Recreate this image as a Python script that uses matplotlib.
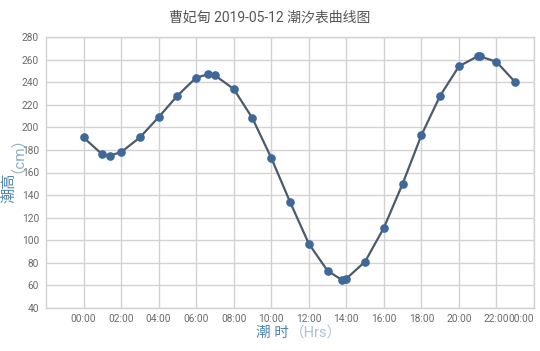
import matplotlib
matplotlib.use("Agg")
import matplotlib.pyplot as plt

plt.rcParams['font.family'] = ['Roboto', 'Noto Sans CJK SC', 'DejaVu Sans']

# tide data
titulo = "曹妃甸 2019-05-12 潮汐表曲线图"
horas = [0, 1, 1.4, 2, 3, 4, 5, 6, 6.65, 7, 8, 9, 10, 11, 12, 13, 13.75, 14,
         15, 16, 17, 18, 19, 20, 21, 21.1, 22, 23]
alturas = [191, 176, 175, 178, 191, 209, 228, 244, 247, 246, 234, 208, 173, 134,
           97, 73, 65, 66, 81, 111, 150, 193, 228, 254, 263, 263, 258, 240]
ticks_x = list(range(0, 25, 2))
etiquetas_x = ["%02d:00" % (h % 24) for h in ticks_x]
ticks_y = list(range(40, 281, 20))

fig = plt.figure(figsize=(5.4, 3.51), dpi=100)
ax = fig.add_axes([46 / 540, 43 / 351, 488 / 540, 271 / 351])

ax.plot(horas, alturas, color='#4d5a6a', linewidth=1.6, zorder=3)
ax.plot(horas, alturas, linestyle='none', marker='o', markersize=5.2,
        color='#3d6898', zorder=4)

ax.set_xlim(-2, 24)
ax.set_ylim(40, 280)
ax.set_xticks(ticks_x)
ax.set_xticklabels(etiquetas_x)
ax.set_yticks(ticks_y)
ax.grid(True, color='#d2d2d2', linewidth=1.0)
ax.set_axisbelow(True)
for s in ax.spines.values():
    s.set_color('#d2d2d2')
    s.set_linewidth(1.0)
ax.tick_params(length=0, labelsize=7.3, labelcolor='#6a6a6a')
ax.tick_params(axis='x', pad=4)
ax.tick_params(axis='y', pad=5)
ultimo = ax.get_xticklabels()[-1]
ultimo.set_ha('right')

fig.text(0.5, 1 - 18 / 351, titulo, ha='center', va='center',
         fontsize=10, color='#555555')

# x label in two colours
fig.text(289 / 540, 1 - 333 / 351, "潮 时", ha='right', va='center',
         fontsize=10.5, color='#4f86b0')
fig.text(290 / 540, 1 - 333 / 351, "（Hrs）", ha='left', va='center',
         fontsize=10.5, color='#a9c3d6')

# y label in two colours
fig.text(10 / 540, 1 - 173 / 351, "潮高", ha='center', va='top', rotation=90,
         fontsize=11, color='#4f86b0')
fig.text(10 / 540, 1 - 173 / 351, "（cm）", ha='center', va='bottom', rotation=90,
         fontsize=11, color='#8fb0c8')

fig.savefig('out.png', dpi=100)
plt.close(fig)
